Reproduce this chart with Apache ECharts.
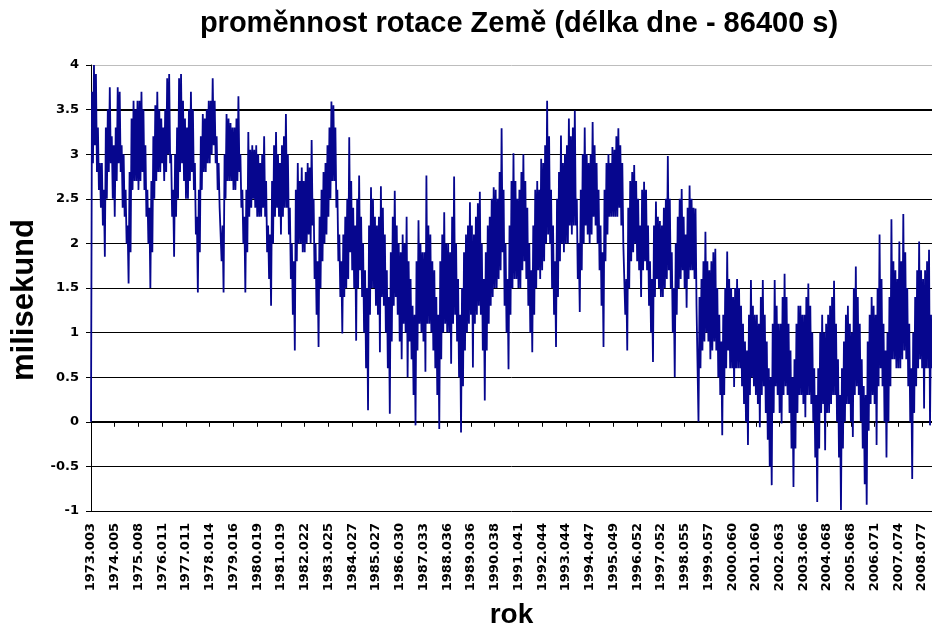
<!DOCTYPE html>
<html><head><meta charset="utf-8">
<script src="https://cdn.jsdelivr.net/npm/echarts@6/dist/echarts.min.js"></script>
<style>html,body{margin:0;padding:0;background:#fff}#c{width:932px;height:630px}</style>
</head><body><div id="c"></div>
<script>
// x-axis tick labels (one every 365 daily values in the original)
const tickLabels = ['1973.003','1974.005','1975.008','1976.011','1977.011','1978.014','1979.016','1980.019','1981.019','1982.022','1983.025','1984.027','1985.027','1986.030','1987.033','1988.036','1989.036','1990.038','1991.041','1992.044','1993.044','1994.047','1995.049','1996.052','1997.052','1998.055','1999.057','2000.060','2001.060','2002.063','2003.066','2004.068','2005.068','2006.071','2007.074','2008.077'];

const lod1973_1979 = [0,
 3.7,2.9, 4.0,3.1, 3.9,2.8, 3.3,2.6, 2.9,2.4, 2.9,2.2, 2.6,1.85, 3.3,2.5, 3.5,2.8, 3.75,2.9, 3.2,2.5, 3.1,2.3,
 3.3,2.7, 3.75,2.9, 3.7,2.8, 3.1,2.4, 3.0,2.3, 2.6,2.0, 2.2,1.55, 2.8,1.9, 3.4,2.6, 3.6,2.7, 3.5,2.7, 3.6,2.6,
 3.6,2.7, 3.7,2.8, 3.5,2.6, 3.1,2.3, 2.6,2.0, 2.4,1.5, 2.7,1.9, 3.2,2.5, 3.55,2.7, 3.7,2.8, 3.5,2.8, 3.4,2.9,
 3.3,2.7, 3.5,2.8, 3.85,3.0, 3.9,2.9, 3.0,2.3, 2.6,1.85, 3.0,2.3, 3.3,2.5, 3.85,2.8, 3.9,2.9, 3.6,2.7, 3.4,2.5,
 3.3,2.5, 3.5,2.7, 3.7,2.8, 3.5,2.6, 2.9,2.1, 2.3,1.45, 2.6,1.9, 3.2,2.6, 3.45,2.8, 3.4,2.8, 3.5,2.9, 3.6,2.9,
 3.6,3.0, 3.85,3.1, 3.6,2.9, 3.2,2.6, 2.9,2.4, 2.4,1.8, 2.2,1.45, 3.0,2.5, 3.45,2.7, 3.4,2.7, 3.35,2.7, 3.3,2.6,
 3.3,2.6, 3.4,2.7, 3.65,2.8, 3.0,2.4, 2.6,2.0, 2.3,1.45, 2.6,1.9, 3.25,2.3, 3.05,2.4, 3.1,2.5, 3.05,2.4, 3.1,2.3];
const lod1980_1989 = [
 3.0,2.3, 2.9,2.3, 3.0,2.4, 3.2,2.3, 2.7,1.9, 2.2,1.6, 2.1,1.3, 2.7,2.0, 3.1,2.3, 3.25,2.4, 3.0,2.3, 2.9,2.1,
 3.1,2.3, 3.2,2.4, 3.45,2.4, 3.0,2.1, 2.4,1.6, 2.0,1.2, 1.8,0.8, 2.6,1.8, 2.9,2.0, 2.7,2.0, 2.85,1.9, 2.7,1.9,
 2.8,2.0, 2.9,2.1, 2.85,2.0, 3.16,2.2, 2.5,1.6, 2.0,1.2, 1.8,0.84, 2.3,1.5, 2.6,1.8, 2.8,2.0, 2.9,2.1, 3.1,2.3,
 3.3,2.5, 3.59,2.7, 3.55,2.7, 3.3,2.4, 2.6,1.8, 2.1,1.4, 1.8,0.99, 2.1,1.4, 2.3,1.5, 2.5,1.6, 3.19,1.9, 2.7,1.7,
 2.4,1.5, 2.2,0.91, 2.5,1.5, 2.76,1.7, 2.3,1.4, 2.0,1.0, 1.7,0.6, 1.5,0.13, 2.2,1.2, 2.63,1.5, 2.5,1.5, 2.3,1.3,
 2.2,1.2, 2.3,0.78, 2.64,1.4, 2.4,1.3, 2.1,1.0, 1.7,0.6, 1.4,0.09, 1.9,0.9, 2.3,1.3, 2.59,1.4, 2.2,1.2, 2.0,0.9,
 1.9,0.7, 2.1,1.1, 2.0,1.0, 2.3,0.5, 1.8,0.9, 1.6,0.7, 1.3,0.3, 1.2,-0.04, 1.8,0.8, 2.26,1.1, 2.0,1.0, 1.9,0.9,
 1.9,0.56, 2.76,1.1, 2.2,1.1, 2.1,1.0, 1.8,0.8, 1.7,0.6, 1.4,0.3, 1.2,-0.08, 1.8,0.7, 2.1,1.0, 2.35,1.1, 2.0,1.0,
 2.0,1.0, 1.9,0.65, 2.3,1.1, 2.75,1.2, 2.0,0.9, 1.6,0.5, 1.2,-0.12, 1.5,0.4, 1.9,0.8, 2.1,1.0, 2.2,1.1, 2.46,1.2,
 2.2,0.61, 2.1,1.1, 2.3,1.2, 2.45,1.3, 2.58,1.2, 2.0,0.8, 1.6,0.24, 1.9,0.8, 2.2,1.1, 2.3,1.3, 2.5,1.4, 2.63,1.5];
const lod1990_1999 = [
 2.6,1.5, 2.5,1.6, 2.8,1.7, 3.29,1.9, 2.6,1.3, 2.0,1.0, 1.6,0.59, 2.2,1.2, 2.7,1.5, 3.01,1.6, 2.7,1.6, 2.5,1.5,
 2.6,1.5, 2.8,1.7, 3.0,1.8, 2.7,1.6, 2.4,1.3, 2.0,1.0, 1.7,0.78, 2.2,1.2, 2.6,1.5, 2.7,1.7, 2.6,1.6, 2.95,1.7,
 2.9,1.8, 3.1,2.0, 3.6,2.1, 3.2,2.0, 2.6,1.5, 2.2,1.2, 1.8,0.84, 2.5,1.4, 2.8,1.8, 3.21,2.0, 2.9,1.9, 3.0,2.0,
 3.1,2.0, 3.4,2.2, 3.2,2.1, 3.3,2.2, 3.49,2.2, 2.5,1.6, 2.0,1.23, 2.6,1.7, 3.0,2.0, 3.3,2.2, 3.0,2.1, 2.9,2.0,
 3.0,2.1, 3.36,2.3, 3.1,2.2, 2.9,2.0, 2.6,1.7, 2.2,1.3, 1.9,0.84, 2.6,1.8, 2.9,2.1, 3.0,2.3, 2.9,2.3, 3.08,2.3,
 3.05,2.3, 3.2,2.3, 3.29,2.4, 3.1,2.2, 2.9,2.0, 2.0,1.2, 1.6,0.8, 2.4,1.5, 2.7,1.8, 2.8,1.9, 2.88,2.0, 2.7,1.8,
 2.5,1.7, 2.2,1.4, 2.6,1.7, 2.69,1.8, 2.6,1.7, 2.2,1.3, 1.8,1.0, 1.6,0.67, 2.2,1.4, 2.47,1.6, 2.3,1.5, 2.25,1.4,
 2.2,1.4, 2.4,1.5, 2.5,1.6, 2.98,1.7, 2.5,1.5, 1.9,1.0, 1.5,0.5, 2.0,1.2, 2.3,1.5, 2.5,1.6, 2.61,1.7, 2.3,1.5,
 2.1,1.28, 2.4,1.6, 2.65,1.7, 2.5,1.7, 2.4,1.6, 2.39,1.3, 1.3,0.0, 1.4,0.6, 1.6,0.8, 1.8,0.9, 2.13,1.0, 1.8,0.9,
 1.7,0.7, 1.8,0.8, 1.9,0.9, 1.94,0.8, 1.5,0.5, 1.2,0.3, 0.9,-0.15, 1.2,0.3, 1.5,0.6, 1.91,0.8, 1.6,0.6, 1.5,0.6];
const lod2000_2008 = [
 1.4,0.39, 1.5,0.6, 1.6,0.6, 1.5,0.6, 1.3,0.4, 1.1,0.2, 0.9,0.0, 0.8,-0.26, 1.2,0.3, 1.59,0.5, 1.3,0.4, 1.2,0.3,
 1.2,0.2, 1.1,-0.06, 1.4,0.3, 1.59,0.4, 1.2,0.1, 0.9,-0.2, 0.6,-0.5, 0.5,-0.71, 1.1,0.1, 1.59,0.4, 1.3,0.3, 1.1,0.1,
 1.1,-0.02, 1.4,0.3, 1.66,0.4, 1.4,0.3, 1.1,0.1, 0.8,-0.3, 0.5,-0.73, 0.7,-0.3, 1.1,0.1, 1.3,0.3, 1.3,0.3, 1.2,0.2,
 1.2,0.05, 1.4,0.3, 1.55,0.3, 1.3,0.2, 1.0,0.0, 0.6,-0.4, 0.3,-0.9, 0.6,-0.3, 1.0,0.1, 1.2,0.2, 1.0,-0.32, 1.1,0.1,
 1.2,0.1, 1.3,0.2, 1.4,0.3, 1.58,0.3, 1.1,0.0, 0.7,-0.4, 0.3,-0.99, 0.6,-0.3, 0.9,0.0, 1.2,0.2, 1.3,0.2, 1.1,0.0,
 1.0,-0.17, 1.5,0.3, 1.74,0.4, 1.4,0.3, 1.1,0.0, 0.7,-0.3, 0.4,-0.7, 0.3,-0.93, 0.9,-0.1, 1.2,0.2, 1.4,0.3, 1.3,0.2,
 1.2,-0.26, 1.5,0.4, 2.1,0.6, 1.6,0.4, 1.1,0.0, 0.8,-0.4, 1.0,0.0, 1.4,0.4, 2.27,0.7, 1.8,0.7, 1.7,0.6, 1.6,0.6,
 2.02,0.6, 1.8,0.7, 2.33,0.8, 1.9,0.7, 1.5,0.4, 1.1,0.0, 0.6,-0.64, 1.0,0.1, 1.4,0.4, 1.7,0.6, 2.02,0.7, 1.7,0.6,
 1.6,0.15, 1.7,0.6, 1.8,0.6, 1.93,-0.04, 1.2,0.6];

const values = [].concat(lod1973_1979, lod1980_1989, lod1990_1999, lod2000_2008);
const categories = values.map((v, i) => String(i));
const labelStep = 24;
const isLabelIdx = (i) => i % labelStep === 0;

const yTicks = 11;
const lightColors = Array.from({length: yTicks}, (_, i) => i === yTicks - 1 ? '#bdbdbd' : '#000');
const heavyColors = Array.from({length: yTicks}, (_, i) => (i === 2 || i === 9) ? '#000' : 'rgba(0,0,0,0)');

const chart = echarts.init(document.getElementById('c'));
chart.setOption({
  animation: false,
  backgroundColor: '#fff',
  title: {
    text: 'proměnnost rotace Země (délka dne - 86400 s)',
    left: 514, top: 4, textAlign: 'center',
    textStyle: {fontFamily: 'Liberation Sans', fontWeight: 'bold', fontSize: 29, color: '#000'}
  },
  grid: {left: 91, right: 0, top: 65, bottom: 119, outerBoundsMode: 'none', containLabel: false},
  xAxis: {
    type: 'category', data: categories, boundaryGap: false,
    name: 'rok', nameLocation: 'middle', nameGap: 90,
    nameTextStyle: {fontFamily: 'Liberation Sans', fontWeight: 'bold', fontSize: 28, color: '#000'},
    axisLine: {lineStyle: {color: '#000', width: 1}},
    axisTick: {interval: isLabelIdx, length: 5, lineStyle: {color: '#000'}},
    axisLabel: {
      interval: isLabelIdx, rotate: 90, margin: 12,
      formatter: (v, i) => tickLabels[i / labelStep],
      fontFamily: 'DejaVu Sans', fontWeight: 'bold', fontSize: 13, color: '#000'
    },
    splitLine: {show: false}
  },
  yAxis: [{
    type: 'value', min: -1, max: 4, interval: 0.5,
    name: 'milisekund', nameLocation: 'middle', nameGap: 40, nameRotate: 90,
    nameTextStyle: {fontFamily: 'Liberation Sans', fontWeight: 'bold', fontSize: 31, color: '#000', padding: [0, 24, 0, 0]},
    axisLine: {show: true, lineStyle: {color: '#000', width: 1}},
    axisTick: {show: true, length: 5, lineStyle: {color: '#000'}},
    axisLabel: {margin: 12, fontFamily: 'DejaVu Sans', fontWeight: 'bold', fontSize: 13, color: '#000'},
    splitLine: {show: true, lineStyle: {color: lightColors, width: 1}}
  }, {
    type: 'value', min: -1, max: 4, interval: 0.5, position: 'left',
    axisLine: {show: false}, axisTick: {show: false}, axisLabel: {show: false},
    splitLine: {show: true, lineStyle: {color: heavyColors, width: 2}}
  }],
  series: [{
    type: 'line', data: values, yAxisIndex: 0,
    symbol: 'none', showSymbol: false,
    lineStyle: {color: '#06068e', width: 1.8},
    z: 5
  }]
});
</script>
</body></html>
